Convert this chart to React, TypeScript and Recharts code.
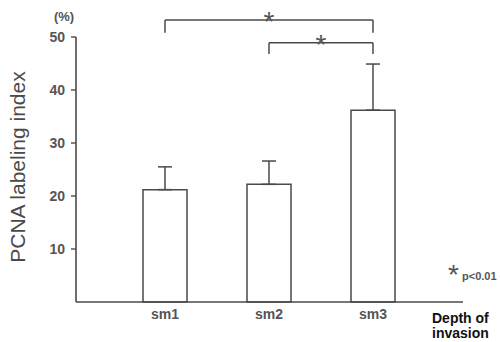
import { Bar, BarChart, ErrorBar, ReferenceLine, XAxis, YAxis } from "recharts";

const groups = ["sm1", "sm2", "sm3"];
const labelingIndex = [21.2, 22.2, 36.2];
const sdUpper = [4.3, 4.4, 8.7];
const yTicks = [10, 20, 30, 40, 50];

// significance brackets (p<0.01)
const bracketFrom = ["sm1", "sm2"];
const bracketTo = ["sm3", "sm3"];
const bracketTop = [53.2, 48.9];
const bracketLeg = [50.8, 46.8];

const data = groups.map((g, i) => ({
  name: g,
  value: labelingIndex[i],
  err: [0, sdUpper[i]],
}));

const FONT = '"Liberation Sans", Arial, Helvetica, sans-serif';
const INK = "#4a4a4a";
const TEXT = "#555";

export default function App() {
  return (
    <div style={{ position: "absolute", left: 0, top: 0, width: 500, height: 342, background: "#fff" }}>
      <BarChart
        width={500}
        height={342}
        data={data}
        margin={{ top: 37, right: 37, left: 0, bottom: 0 }}
        style={{ fontFamily: FONT }}
      >
        <XAxis
          dataKey="name"
          height={40}
          padding={{ left: 37, right: 38 }}
          tickLine={false}
          tickSize={0}
          tickMargin={7}
          axisLine={{ stroke: INK, strokeWidth: 1.6 }}
          tick={{ fill: TEXT, fontSize: 14, fontWeight: "bold" }}
        />
        <YAxis
          width={76}
          domain={[0, 50]}
          ticks={yTicks}
          tickSize={5}
          tickMargin={6}
          axisLine={{ stroke: INK, strokeWidth: 1.6 }}
          tickLine={{ stroke: INK, strokeWidth: 1.4 }}
          tick={{ fill: TEXT, fontSize: 14, fontWeight: "bold" }}
        />
        <Bar dataKey="value" barSize={44} fill="#fff" stroke={INK} strokeWidth={1.5} isAnimationActive={false}>
          <ErrorBar dataKey="err" width={7} stroke={INK} strokeWidth={1.5} isAnimationActive={false} />
        </Bar>
        {bracketFrom.map((from, i) => (
          <ReferenceLine
            key={`h${i}`}
            segment={[
              { x: from, y: bracketTop[i] },
              { x: bracketTo[i], y: bracketTop[i] },
            ]}
            ifOverflow="visible"
            stroke={INK}
            strokeWidth={1.5}
            label={{ value: "*", position: "top", offset: -11, fill: TEXT, fontSize: 28 }}
          />
        ))}
        {bracketFrom.map((from, i) => (
          <ReferenceLine
            key={`l${i}`}
            segment={[
              { x: from, y: bracketTop[i] },
              { x: from, y: bracketLeg[i] },
            ]}
            ifOverflow="visible"
            stroke={INK}
            strokeWidth={1.5}
          />
        ))}
        {bracketTo.map((to, i) => (
          <ReferenceLine
            key={`r${i}`}
            segment={[
              { x: to, y: bracketTop[i] },
              { x: to, y: bracketLeg[i] },
            ]}
            ifOverflow="visible"
            stroke={INK}
            strokeWidth={1.5}
          />
        ))}
      </BarChart>
      <svg
        width={500}
        height={342}
        style={{ position: "absolute", left: 0, top: 0, pointerEvents: "none", fontFamily: FONT }}
      >
        <text x={64} y={20.5} textAnchor="middle" fontSize={13} fontWeight="bold" fill={TEXT}>
          (%)
        </text>
        <text transform="translate(24.5,167) rotate(-90)" textAnchor="middle" fontSize={21} fill="#4a4a4a">
          PCNA labeling index
        </text>
        <text x={432} y={323.3} fontSize={14} fontWeight="bold" fill="#111">
          Depth of
        </text>
        <text x={432} y={338.3} fontSize={14} fontWeight="bold" fill="#111">
          invasion
        </text>
        <text x={448} y={284} fontSize={28} fill={TEXT}>
          *
        </text>
        <text x={462} y={280} fontSize={11} fontWeight="bold" fill={TEXT}>
          p&lt;0.01
        </text>
      </svg>
    </div>
  );
}
